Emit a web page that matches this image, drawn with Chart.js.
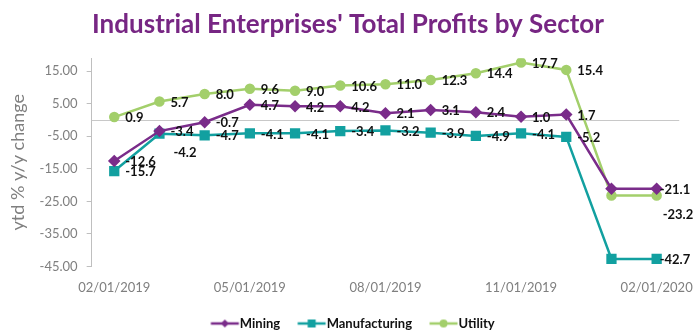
<!DOCTYPE html>
<html>
<head>
<meta charset="utf-8">
<script src="https://cdn.jsdelivr.net/npm/chart.js@4.4.0/dist/chart.umd.min.js"></script>
<style>
  body { margin: 0; background: #fff; }
</style>
</head>
<body>
<canvas id="profits" width="693" height="332"></canvas>
<script>
const months = [
    '02/01/2019', '03/01/2019', '04/01/2019', '05/01/2019', '06/01/2019', '07/01/2019',
    '08/01/2019', '09/01/2019', '10/01/2019', '11/01/2019', '12/01/2019',
    '01/01/2020', '02/01/2020'
];
const mining = [-12.6, -3.4, -0.7, 4.7, 4.2, 4.2, 2.1, 3.1, 2.4, 1.0, 1.7, -21.1, -21.1];
const manufacturing = [-15.7, -4.2, -4.7, -4.1, -4.1, -3.4, -3.2, -3.9, -4.9, -4.1, -5.2, -42.7, -42.7];
const utility = [0.9, 5.7, 8.0, 9.6, 9.0, 10.6, 11.0, 12.3, 14.4, 17.7, 15.4, -23.2, -23.2];
const yTicks = [-45, -35, -25, -15, -5, 5, 15];

const PURPLE = '#7A2C8A';
const TEAL = '#12A0A0';
const GREEN = '#A3CF6B';

// label offsets from the point, default is just right of it
// the Jan 2020 points carry no label
const noLabel = [11];
function labelOffset(di, i) {
    if (di === 1 && i === 1) return [14, 19];
    if (di === 2 && i === 12) return [6, 19];
    if (i === 12) return [3, 1];
    return [11, 1];
}

// line + marker swatch; the blank left part gives the gap between legend items
function legendIcon(color, style) {
    const c = document.createElement('canvas');
    c.width = 48; c.height = 10;
    const g = c.getContext('2d');
    g.strokeStyle = color;
    g.lineWidth = 2.5;
    g.beginPath(); g.moveTo(17.5, 5); g.lineTo(45.5, 5); g.stroke();
    g.fillStyle = color;
    g.beginPath();
    const cx = 31.5;
    if (style === 'rect') g.rect(cx - 4, 1, 8, 8);
    else if (style === 'rectRot') { g.moveTo(cx, 1); g.lineTo(cx + 4, 5); g.lineTo(cx, 9); g.lineTo(cx - 4, 5); g.closePath(); }
    else g.arc(cx, 5, 4, 0, Math.PI * 2);
    g.fill();
    return c;
}

const zeroLine = {
    id: 'zeroLine',
    beforeDatasetsDraw(chart) {
        const { ctx, chartArea, scales } = chart;
        const y = Math.round(scales.y.getPixelForValue(0)) + 0.5;
        ctx.save();
        ctx.strokeStyle = '#C8C8C8';
        ctx.lineWidth = 1;
        ctx.beginPath();
        ctx.moveTo(chartArea.left, y);
        ctx.lineTo(chartArea.right, y);
        ctx.stroke();
        ctx.restore();
    }
};

const valueLabels = {
    id: 'valueLabels',
    afterDatasetsDraw(chart) {
        const ctx = chart.ctx;
        ctx.save();
        ctx.font = 'bold 13px Lato';
        ctx.fillStyle = '#111';
        ctx.textBaseline = 'middle';
        ctx.textAlign = 'left';
        chart.data.datasets.forEach((ds, di) => {
            const meta = chart.getDatasetMeta(di);
            meta.data.forEach((pt, i) => {
                if (noLabel.includes(i)) return;
                const [dx, dy] = labelOffset(di, i);
                ctx.fillText(ds.data[i].toFixed(1), pt.x + dx, pt.y + dy);
            });
        });
        ctx.restore();
    }
};

new Chart(
    document.getElementById('profits'),
    {
        type: 'line',
        data: {
            labels: months,
            datasets: [
                {
                    label: 'Mining',
                    data: mining,
                    borderColor: PURPLE,
                    backgroundColor: PURPLE,
                    borderWidth: 2.5,
                    pointStyle: 'rectRot',
                    pointRadius: 4.5,
                    tension: 0
                },
                {
                    label: 'Manufacturing',
                    data: manufacturing,
                    borderColor: TEAL,
                    backgroundColor: TEAL,
                    borderWidth: 2.5,
                    pointStyle: 'rect',
                    pointRadius: 5.5,
                    tension: 0
                },
                {
                    label: 'Utility',
                    data: utility,
                    borderColor: GREEN,
                    backgroundColor: GREEN,
                    borderWidth: 2.5,
                    pointStyle: 'circle',
                    pointRadius: 4,
                    tension: 0
                }
            ]
        },
        options: {
            responsive: false,
            animation: false,
            layout: { padding: { left: 3, right: 0, top: 0, bottom: -8 } },
            plugins: {
                title: {
                    display: true,
                    text: "Industrial Enterprises' Total Profits by Sector",
                    color: '#772683',
                    font: { family: 'Lato', size: 26, weight: 'bold' },
                    padding: { top: 9, bottom: 18 }
                },
                legend: {
                    position: 'bottom',
                    labels: {
                        usePointStyle: true,
                        pointStyleWidth: 32,
                        padding: 8,
                        color: '#111',
                        font: { family: 'Lato', size: 13, weight: 'bold' },
                        generateLabels(chart) {
                            return chart.data.datasets.map((ds, i) => ({
                                text: ds.label,
                                pointStyle: legendIcon(ds.borderColor, ds.pointStyle),
                                fontColor: '#111',
                                strokeStyle: 'transparent',
                                fillStyle: 'transparent',
                                lineWidth: 0,
                                datasetIndex: i
                            }));
                        }
                    }
                },
                tooltip: { enabled: false }
            },
            scales: {
                x: {
                    offset: true,
                    grid: { display: false, drawTicks: true, tickLength: 14 },
                    border: { display: false },
                    ticks: {
                        autoSkip: false,
                        maxRotation: 0,
                        color: '#7F7F7F',
                        font: { family: 'Lato', size: 13 },
                        padding: 0,
                        callback: function(val, i) { return i % 3 === 0 ? months[i] : ''; }
                    },
                    afterFit: function(scale) { scale.height += 13; }
                },
                y: {
                    min: -45,
                    max: 19,
                    afterBuildTicks: function(scale) {
                        scale.ticks = yTicks.map(v => ({ value: v }));
                    },
                    grid: { drawOnChartArea: false, tickLength: 5, color: '#BFBFBF' },
                    border: { color: '#BFBFBF' },
                    ticks: {
                        color: '#7F7F7F',
                        font: { family: 'Lato', size: 13 },
                        padding: 9,
                        callback: v => v.toFixed(2)
                    },
                    title: {
                        display: true,
                        text: 'ytd % y/y change',
                        color: '#7F7F7F',
                        font: { family: 'Lato', size: 18 },
                        padding: { bottom: 2 }
                    }
                }
            }
        },
        plugins: [zeroLine, valueLabels]
    }
);
</script>
</body>
</html>
